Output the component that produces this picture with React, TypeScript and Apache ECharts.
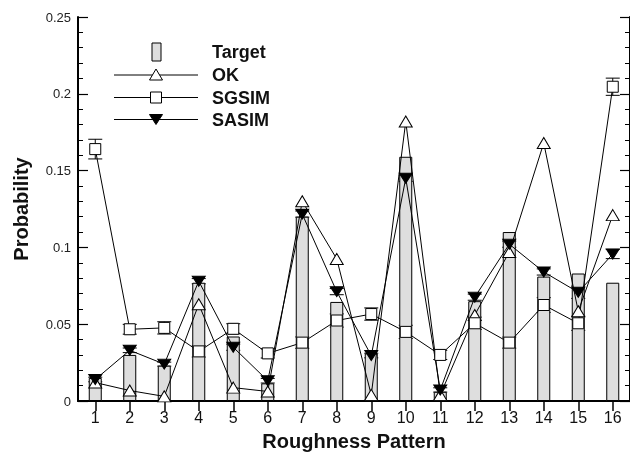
import React, { useEffect, useRef } from "react";
import * as echarts from "echarts";

const categories = ["1","2","3","4","5","6","7","8","9","10","11","12","13","14","15","16"];
const targetValues = [0.015, 0.030, 0.023, 0.077, 0.042, 0.0115, 0.120, 0.0645, 0.031, 0.159, 0.006, 0.065, 0.110, 0.081, 0.083, 0.077];
const okValues = [0.012, 0.0068, 0.003, 0.063, 0.0087, 0.0062, 0.130, 0.0925, 0.004, 0.182, 0.004, 0.056, 0.097, 0.168, 0.0584, 0.121];
const sgsimValues = [0.164, 0.0467, 0.0476, 0.0323, 0.047, 0.031, 0.038, 0.0524, 0.0566, 0.045, 0.030, 0.0506, 0.038, 0.0625, 0.0506, 0.2046];
const sgsimErrors = [0.0064, 0.0032, 0.004, 0.0037, 0.0033, 0.003, 0.0037, 0.0043, 0.004, 0.0043, 0.003, 0.004, 0.0036, 0.0048, 0.0046, 0.0056];
const sasimValues = [0.014, 0.033, 0.024, 0.078, 0.035, 0.0132, 0.1217, 0.0712, 0.0296, 0.145, 0.0072, 0.0676, 0.1021, 0.084, 0.0708, 0.0957];
const sasimErrors = [0.0015, 0.0015, 0.0013, 0.0017, 0.002, 0.0015, 0.002, 0.002, 0.0015, 0.002, 0.0014, 0.002, 0.002, 0.002, 0.004, 0.003];
const legendNames = ["Target", "OK", "SGSIM", "SASIM"];

const FONT = "'Liberation Sans', Arial, Helvetica, sans-serif";

function errData(vals: number[], errs: number[]) {
  return vals.map((v, i) => [i, v - errs[i], v + errs[i]]);
}

function renderErr(params: any, api: any) {
  const lo = api.coord([api.value(0), api.value(1)]);
  const hi = api.coord([api.value(0), api.value(2)]);
  const half = 7;
  const style = { stroke: "#000", lineWidth: 1 };
  return {
    type: "group",
    children: [
      { type: "line", shape: { x1: lo[0], y1: lo[1], x2: hi[0], y2: hi[1] }, style },
      { type: "line", shape: { x1: lo[0] - half, y1: lo[1], x2: lo[0] + half, y2: lo[1] }, style },
      { type: "line", shape: { x1: hi[0] - half, y1: hi[1], x2: hi[0] + half, y2: hi[1] }, style },
    ],
  };
}

export default function App() {
  const ref = useRef<HTMLDivElement>(null);
  useEffect(() => {
    if (!ref.current) return;
    const chart = echarts.init(ref.current, undefined, { renderer: "svg" });
    const lx1 = 114, lx2 = 198, lcx = 156, tx = 212;
    const rows = [52, 75, 97.5, 119.5];
    const lineStyleG = { stroke: "#000", lineWidth: 1 };
    chart.setOption({
      animation: false,
      textStyle: { fontFamily: FONT },
      grid: { left: 78, top: 17, width: 559, height: 391 },
      xAxis: [
        {
          type: "category",
          data: categories,
          position: "bottom",
          boundaryGap: true,
          axisLine: { show: true, lineStyle: { color: "#000", width: 2 } },
          axisTick: { show: true, inside: true, alignWithLabel: true, length: 10, lineStyle: { color: "#000", width: 1.5 } },
          axisLabel: { fontSize: 16, color: "#111", margin: 8, fontFamily: FONT },
          splitLine: { show: false },
          name: "Roughness Pattern",
          nameLocation: "middle",
          nameGap: 30,
          nameTextStyle: { fontSize: 20, fontWeight: "bold", color: "#111", fontFamily: FONT },
        },
        {
          type: "category",
          data: categories,
          position: "top",
          boundaryGap: true,
          axisLine: { show: true, lineStyle: { color: "#000", width: 1.5 } },
          axisTick: { show: true, inside: true, alignWithLabel: true, length: 10, lineStyle: { color: "#000", width: 1.5 } },
          axisLabel: { show: false },
          splitLine: { show: false },
        },
      ],
      yAxis: [
        {
          type: "value",
          min: 0,
          max: 0.25,
          interval: 0.05,
          position: "left",
          axisLine: { show: true, lineStyle: { color: "#000", width: 2 } },
          axisTick: { show: true, inside: true, length: 10, lineStyle: { color: "#000", width: 1.2 } },
          minorTick: { show: true, splitNumber: 5, length: 5, lineStyle: { color: "#000", width: 1 } },
          axisLabel: { fontSize: 13, color: "#222", margin: 7, fontFamily: FONT },
          splitLine: { show: false },
          name: "Probability",
          nameLocation: "middle",
          nameGap: 47,
          nameRotate: 90,
          nameTextStyle: { fontSize: 20, fontWeight: "bold", color: "#111", fontFamily: FONT },
        },
        {
          type: "value",
          min: 0,
          max: 0.25,
          interval: 0.05,
          position: "right",
          axisLine: { show: true, lineStyle: { color: "#000", width: 2 } },
          axisTick: { show: true, inside: true, length: 10, lineStyle: { color: "#000", width: 1.2 } },
          minorTick: { show: true, splitNumber: 5, length: 5, lineStyle: { color: "#000", width: 1 } },
          axisLabel: { show: false },
          splitLine: { show: false },
        },
      ],
      series: [
        {
          name: legendNames[0],
          type: "bar",
          data: targetValues,
          barWidth: 13,
          itemStyle: { color: "#dedede", borderColor: "#000", borderWidth: 1 },
        },
        {
          name: "SGSIM error",
          type: "custom",
          data: errData(sgsimValues, sgsimErrors),
          renderItem: renderErr,
          encode: { x: 0, y: [1, 2] },
        },
        {
          name: "SASIM error",
          type: "custom",
          data: errData(sasimValues, sasimErrors),
          renderItem: renderErr,
          encode: { x: 0, y: [1, 2] },
        },
        {
          name: legendNames[1],
          type: "line",
          data: okValues,
          symbol: "triangle",
          symbolSize: [13, 11],
          itemStyle: { color: "#fff", borderColor: "#000", borderWidth: 1 },
          lineStyle: { color: "#000", width: 1 },
        },
        {
          name: legendNames[2],
          type: "line",
          data: sgsimValues,
          symbol: "rect",
          symbolSize: 11,
          itemStyle: { color: "#fff", borderColor: "#000", borderWidth: 1 },
          lineStyle: { color: "#000", width: 1 },
        },
        {
          name: legendNames[3],
          type: "line",
          data: sasimValues,
          symbol: "triangle",
          symbolRotate: 180,
          symbolSize: [13, 10],
          itemStyle: { color: "#000", borderColor: "#000", borderWidth: 1 },
          lineStyle: { color: "#000", width: 1 },
        },
      ],
      graphic: [
        { type: "rect", shape: { x: 152, y: 43, width: 9, height: 18 }, style: { fill: "#dedede", stroke: "#000", lineWidth: 1 } },
        { type: "line", shape: { x1: lx1, y1: rows[1], x2: lx2, y2: rows[1] }, style: lineStyleG },
        { type: "polygon", shape: { points: [[lcx - 6.5, rows[1] + 5], [lcx + 6.5, rows[1] + 5], [lcx, rows[1] - 6]] }, style: { fill: "#fff", stroke: "#000", lineWidth: 1 } },
        { type: "line", shape: { x1: lx1, y1: rows[2], x2: lx2, y2: rows[2] }, style: lineStyleG },
        { type: "rect", shape: { x: lcx - 5.5, y: rows[2] - 5.5, width: 11, height: 11 }, style: { fill: "#fff", stroke: "#000", lineWidth: 1 } },
        { type: "line", shape: { x1: lx1, y1: rows[3], x2: lx2, y2: rows[3] }, style: lineStyleG },
        { type: "polygon", shape: { points: [[lcx - 6.5, rows[3] - 5], [lcx + 6.5, rows[3] - 5], [lcx, rows[3] + 5]] }, style: { fill: "#000", stroke: "#000", lineWidth: 1 } },
        ...legendNames.map((n, i) => ({
          type: "text",
          x: tx,
          y: rows[i],
          style: { text: n, fontSize: 18, fontWeight: "bold", fill: "#111", fontFamily: FONT, verticalAlign: "middle", align: "left" },
        })),
      ],
    });
    return () => chart.dispose();
  }, []);
  return <div ref={ref} style={{ position: "fixed", left: 0, top: 0, width: 630, height: 456 }} />;
}
